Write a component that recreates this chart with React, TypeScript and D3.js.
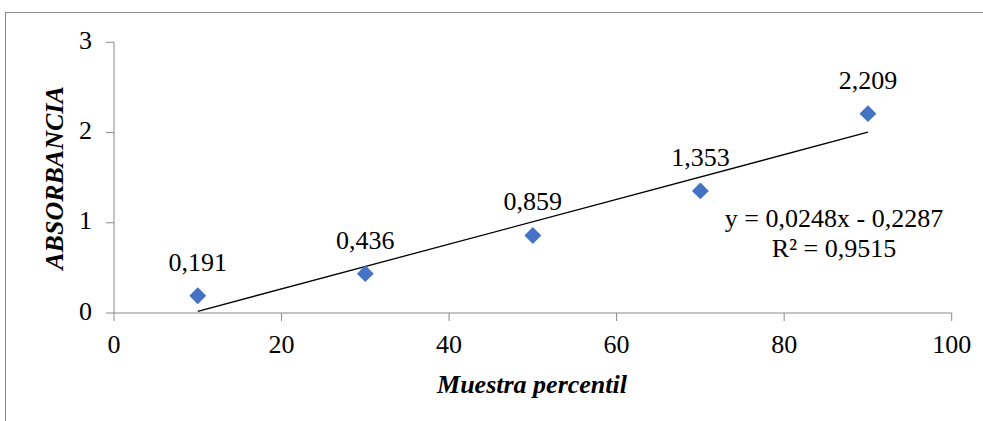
import React from "react";
import * as d3 from "d3";

// Percentile samples and measured absorbance
const percentiles = [10, 30, 50, 70, 90];
const absorbance = [0.191, 0.436, 0.859, 1.353, 2.209];
const pointLabels = ["0,191", "0,436", "0,859", "1,353", "2,209"];

// Linear fit y = slope * x + intercept
const fitSlope = 0.0248;
const fitIntercept = -0.2287;
const fitRange = [10, 90];
const fitLabels = ["y = 0,0248x - 0,2287", "R² = 0,9515"];

const xTicks = [0, 20, 40, 60, 80, 100];
const yTicks = [0, 1, 2, 3];

const W = 983;
const H = 421;
const FONT = "'Liberation Serif', 'Times New Roman', serif";
const AXIS = "#898989";

export default function App() {
  const x = d3.scaleLinear().domain([0, 100]).range([114, 951.7]);
  const y = d3.scaleLinear().domain([0, 3]).range([313, 42.3]);

  const line = d3
    .line<number>()
    .x((d) => x(d))
    .y((d) => y(fitSlope * d + fitIntercept));

  const diamond = d3.symbol().type(d3.symbolSquare).size(142)();

  return (
    <svg
      width={W}
      height={H}
      style={{ position: "absolute", left: 0, top: 0, background: "#fff" }}
      fontFamily={FONT}
    >
      <rect x={5.5} y={12.5} width={1200} height={800} fill="#fff" stroke={AXIS} strokeWidth={1} />

      {/* y axis */}
      <line x1={x(0)} x2={x(0)} y1={y(0)} y2={y(3)} stroke={AXIS} />
      {yTicks.map((t) => (
        <g key={"y" + t}>
          <line x1={x(0) - 8} x2={x(0)} y1={y(t)} y2={y(t)} stroke={AXIS} />
          <text x={92} y={y(t) + 6.5} fontSize={26} textAnchor="end" fill="#000">
            {t}
          </text>
        </g>
      ))}

      {/* x axis */}
      <line x1={x(0)} x2={x(100)} y1={y(0)} y2={y(0)} stroke={AXIS} />
      {xTicks.map((t) => (
        <g key={"x" + t}>
          <line x1={x(t)} x2={x(t)} y1={y(0)} y2={y(0) + 8} stroke={AXIS} />
          <text x={x(t)} y={353} fontSize={26} textAnchor="middle" fill="#000">
            {t}
          </text>
        </g>
      ))}

      {/* trend line */}
      <path d={line(fitRange) || ""} fill="none" stroke="#000" strokeWidth={1.3} />

      {/* measured points */}
      {percentiles.map((p, i) => (
        <g key={"p" + i}>
          <path
            d={diamond || ""}
            transform={`translate(${x(p)},${y(absorbance[i])}) rotate(45)`}
            fill="#4472C4"
          />
          <text
            x={x(p)}
            y={y(absorbance[i]) - 25}
            fontSize={26}
            textAnchor="middle"
            fill="#000"
          >
            {pointLabels[i]}
          </text>
        </g>
      ))}

      {/* fit equation */}
      {fitLabels.map((s, i) => (
        <text key={s} x={834} y={226.7 + i * 30.6} fontSize={26} textAnchor="middle" fill="#000">
          {s}
        </text>
      ))}

      {/* axis titles */}
      <text
        x={532}
        y={393.3}
        fontSize={26}
        fontWeight="bold"
        fontStyle="italic"
        textAnchor="middle"
        fill="#000"
      >
        Muestra percentil
      </text>
      <text
        transform={`translate(63,178) rotate(-90)`}
        fontSize={26}
        fontWeight="bold"
        fontStyle="italic"
        textAnchor="middle"
        fill="#000"
      >
        ABSORBANCIA
      </text>
    </svg>
  );
}
